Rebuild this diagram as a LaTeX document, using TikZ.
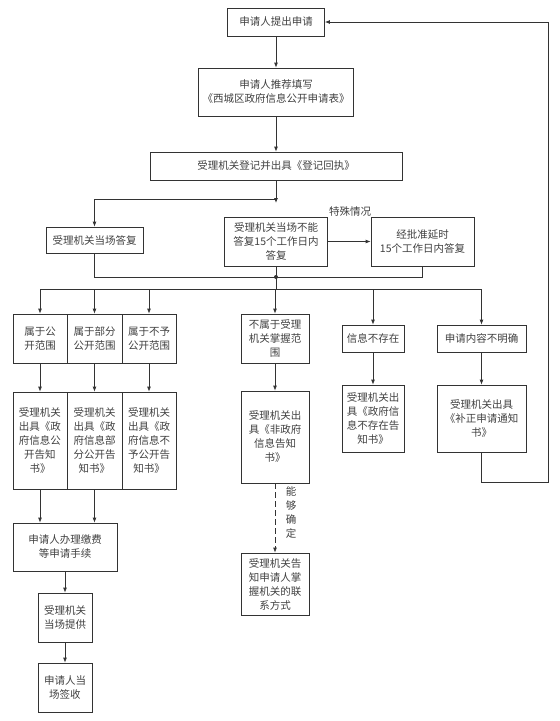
\documentclass[tikz,border=0pt]{standalone}
\usepackage{fontspec}
\setmainfont{Noto Sans CJK SC}
\usetikzlibrary{arrows.meta}

\begin{document}
\begin{tikzpicture}[
    x=1pt, y=-1pt,
    font=\fontsize{10.5}{14}\selectfont,
    box/.style={draw=black!80, line width=0.8pt, text=black!75, align=center, inner sep=0pt},
    arrow/.style={-{Latex[length=5pt,width=4pt]}, draw=black!80, line width=0.8pt},
    link/.style={draw=black!80, line width=0.8pt},
    note/.style={text=black!75, align=center, inner sep=0pt}
  ]
  \useasboundingbox (0,0) rectangle (560,721);

  % main line
  \node[box, minimum width=97pt, minimum height=28pt] (apply) at (276,22) {申请人提出申请};
  \node[box, minimum width=155pt, minimum height=48pt] (form) at (276,92) {申请人推荐填写\\《西城区政府信息公开申请表》};
  \node[box, minimum width=252pt, minimum height=28pt] (register) at (276,166) {受理机关登记并出具《登记回执》};

  % reply
  \node[box, minimum width=97pt, minimum height=26pt] (onsite) at (94.5,240) {受理机关当场答复};
  \node[box, minimum width=103pt, minimum height=49pt] (later) at (276,241.5) {受理机关当场不能\\答复15个工作日内\\答复};
  \node[box, minimum width=103pt, minimum height=49pt] (delay) at (422.5,241.5) {经批准延时\\15个工作日内答复};
  \node[note] (special) at (350,212) {特殊情况};

  % categories
  \node[box, minimum width=54pt, minimum height=49pt] (b1) at (40,338.5) {属于公\\开范围};
  \node[box, minimum width=55pt, minimum height=49pt] (b2) at (94.5,338.5) {属于部分\\公开范围};
  \node[box, minimum width=54pt, minimum height=49pt] (b3) at (149,338.5) {属于不予\\公开范围};
  \node[box, minimum width=68pt, minimum height=49pt] (b4) at (275,338.5) {不属于受理\\机关掌握范\\围};
  \node[box, minimum width=62pt, minimum height=27pt] (b5) at (373,338.5) {信息不存在};
  \node[box, minimum width=89pt, minimum height=27pt] (b6) at (481.5,338.5) {申请内容不明确};

  % notices
  \node[box, minimum width=54pt, minimum height=97pt] (c1) at (40,440.5) {受理机关\\出具《政\\府信息公\\开告知\\书》};
  \node[box, minimum width=55pt, minimum height=97pt] (c2) at (94.5,440.5) {受理机关\\出具《政\\府信息部\\分公开告\\知书》};
  \node[box, minimum width=54pt, minimum height=97pt] (c3) at (149,440.5) {受理机关\\出具《政\\府信息不\\予公开告\\知书》};
  \node[box, minimum width=68pt, minimum height=92pt] (c4) at (275,437) {受理机关出\\具《非政府\\信息告知\\书》};
  \node[box, minimum width=62pt, minimum height=67pt] (c5) at (373,418.5) {受理机关出\\具《政府信\\息不存在告\\知书》};
  \node[box, minimum width=89pt, minimum height=67pt] (c6) at (481.5,418.5) {受理机关出具\\《补正申请通知\\书》};

  % follow-up
  \node[box, minimum width=104pt, minimum height=48pt] (fee) at (65,547) {申请人办理缴费\\等申请手续};
  \node[box, minimum width=54pt, minimum height=49pt] (provide) at (65,617.5) {受理机关\\当场提供};
  \node[box, minimum width=54pt, minimum height=49pt] (sign) at (65,687.5) {申请人当\\场签收};
  \node[box, minimum width=68pt, minimum height=62pt] (contact) at (275,584) {受理机关告\\知申请人掌\\握机关的联\\系方式};
  \node[note] (known) at (291,513) {能\\够\\确\\定};

  \coordinate (tip) at (276,203);
  \coordinate (split) at (276,199);
  \coordinate (merge) at (276,277);
  \coordinate (bus) at (276,289);
  \coordinate (loop) at (548,482);

  \draw[arrow] (apply) -- (form);
  \draw[arrow] (form) -- (register);
  \draw[arrow] (register) -- (tip);
  \draw[arrow] (split) -| (onsite);
  \draw[arrow] (later) -- (delay);

  \draw[link] (onsite) |- (merge);
  \draw[link] (delay) |- (merge);
  \draw[link] (later) -- (bus);
  \fill[black!80] (merge) circle (2pt);
  \draw[link] (b1 |- bus) -- (b6 |- bus);
  \foreach \i in {1,...,6} {
    \draw[arrow] (b\i |- bus) -- (b\i);
    \draw[arrow] (b\i) -- (c\i);
  }

  \draw[arrow] (c1) -- (c1 |- fee.north);
  \draw[arrow] (c2) -- (c2 |- fee.north);
  \draw[arrow] (fee) -- (provide);
  \draw[arrow] (provide) -- (sign);
  \draw[arrow, dash pattern=on 6pt off 3pt] (c4) -- (contact);
  \draw[arrow] (c6.south) |- (loop) |- (apply.east);
\end{tikzpicture}
\end{document}
